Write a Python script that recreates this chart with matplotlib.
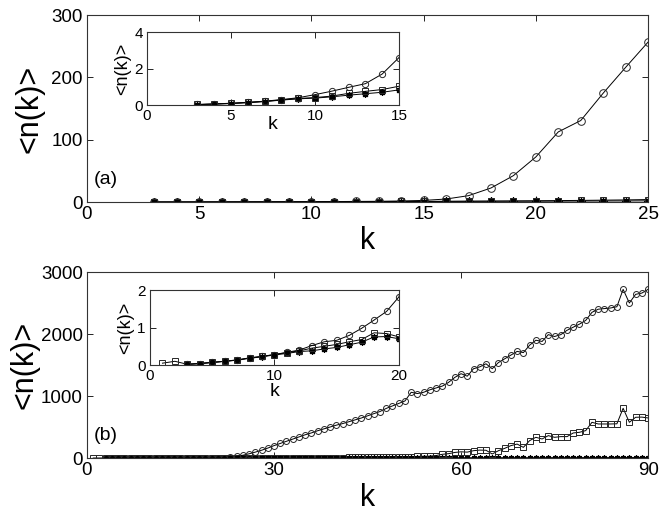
import matplotlib
matplotlib.use('Agg')
import matplotlib.pyplot as plt

plt.rcParams['font.family'] = ['Liberation Sans', 'DejaVu Sans']

# ---- panel (a) data ----
k_a = list(range(3, 26))
circ_a = [0.03, 0.06, 0.10, 0.15, 0.21, 0.30, 0.40, 0.57, 0.76, 0.97, 1.17, 1.70,
          2.60, 4.8, 10.2, 22.5, 42.3, 72.3, 112.5, 130.7, 174.6, 216.0, 256.6]
sq_a = [0.03, 0.06, 0.09, 0.14, 0.20, 0.28, 0.36, 0.41, 0.49, 0.64, 0.75, 0.85,
        1.03, 1.2, 1.4, 1.6, 1.8, 2.0, 2.3, 2.6, 3.0, 3.4, 4.0]
star_a = [0.02, 0.05, 0.08, 0.13, 0.19, 0.27, 0.34, 0.38, 0.45, 0.54, 0.62, 0.70,
          0.83, 0.95, 1.05, 1.15, 1.25, 1.35, 1.45, 1.55, 1.65, 1.75, 1.9]

# ---- panel (b) data ----
k_b_sq = list(range(1, 91))
k_b = list(range(3, 91))
circ_b = [0.02, 0.04, 0.07, 0.10, 0.14, 0.19, 0.23, 0.28, 0.34, 0.40, 0.52, 0.62,
          0.66, 0.79, 0.98, 1.20, 1.43, 1.82,
          4, 8, 15, 27, 45, 68, 95, 125, 160, 200,
          235, 270, 305, 340, 375, 405, 440, 470, 500, 530,
          555, 585, 615, 645, 680, 715, 750, 800, 840, 880,
          920, 1060, 1040, 1060, 1100, 1130, 1160, 1220, 1300, 1360,
          1320, 1440, 1470, 1520, 1440, 1540, 1600, 1660, 1720, 1700,
          1820, 1900, 1880, 1990, 1960, 1990, 2060, 2110, 2160, 2220,
          2350, 2400, 2410, 2420, 2440, 2720, 2500, 2640, 2660, 2720]
sq_b = [0.05, 0.10, 0.02, 0.04, 0.07, 0.10, 0.13, 0.19, 0.23, 0.28,
        0.33, 0.38, 0.45, 0.50, 0.55, 0.62, 0.68, 0.86, 0.84, 0.75,
        0.9, 1.0, 1.1, 1.3, 1.4, 1.6, 1.8, 2.0, 2.2, 2.5,
        2.8, 3.1, 3.5, 3.9, 4.3, 4.8, 5.3, 5.9, 6.5, 7.2,
        8, 9, 10, 11, 12, 13, 14, 15, 17, 19,
        20, 22, 25, 28, 30, 40, 60, 70, 90, 100,
        95, 118, 128, 125, 65, 118, 156, 200, 225, 172,
        280, 334, 307, 361, 334, 345, 345, 404, 415, 442,
        576, 549, 549, 549, 552, 802, 576, 657, 660, 646]
star_b = [0.02, 0.04, 0.07, 0.10, 0.13, 0.18, 0.22, 0.27, 0.31, 0.36, 0.38, 0.43,
          0.47, 0.54, 0.61, 0.75, 0.76, 0.70,
          0.8, 0.9, 0.9, 1.0, 1.1, 1.1, 1.2, 1.3, 1.4, 1.4,
          1.5, 1.6, 1.8, 1.8, 1.9, 2.1, 2.1, 2.2, 2.4, 2.4,
          2.5, 2.7, 2.7, 2.8, 3.0, 3.0, 3.1, 3.3, 3.3, 3.4,
          3.6, 3.6, 3.7, 3.9, 3.9, 4.0, 4.2, 4.2, 4.3, 4.5,
          4.5, 4.6, 4.8, 4.8, 4.9, 5.1, 5.1, 5.2, 5.4, 5.4,
          5.5, 5.7, 5.7, 5.8, 6.0, 6.0, 6.1, 6.3, 6.3, 6.4,
          6.6, 6.6, 6.7, 6.9, 6.9, 7.0, 7.2, 7.2, 7.3, 7.4]

ast = (8, 2, 0)
lw = 0.7
mec = '0.15'


def draw(ax, ks, c, ksq, s, st, ms):
    ax.plot(ks, st, '-', color='k', lw=lw, marker=ast, ms=ms * 1.05, mec='k', mew=0.9)
    ax.plot(ksq, s, '-', color='k', lw=lw, marker='s', ms=ms * 0.85, mfc='none', mec=mec, mew=0.7)
    ax.plot(ks, c, '-', color='k', lw=lw, marker='o', ms=ms, mfc='none', mec=mec, mew=0.7)


def style(ax, fs):
    ax.tick_params(direction='in', top=True, right=True, length=4, width=0.6,
                   labelsize=fs, pad=3)
    for sp in ax.spines.values():
        sp.set_linewidth(0.8)
        sp.set_color('0.2')


fig = plt.figure(figsize=(6.64, 5.2), dpi=100)

# main (a)
ax1 = fig.add_axes([0.131, 0.6115, 0.845, 0.3596])
draw(ax1, k_a, circ_a, k_a, sq_a, star_a, 5.5)
ax1.set_xlim(0, 25)
ax1.set_ylim(0, 300)
ax1.set_xticks([0, 5, 10, 15, 20, 25])
ax1.set_yticks([0, 100, 200, 300])
style(ax1, 13.5)
ax1.set_xlabel('k', fontsize=22, labelpad=2)
ax1.set_ylabel('<n(k)>', fontsize=22, labelpad=5)
ax1.text(0.012, 0.12, '(a)', transform=ax1.transAxes, fontsize=14, va='center')

# inset (a)
ax1i = fig.add_axes([0.2214, 0.798, 0.3795, 0.1404])
draw(ax1i, k_a, circ_a, k_a, sq_a, star_a, 4.5)
ax1i.set_xlim(0, 15)
ax1i.set_ylim(0, 4)
ax1i.set_xticks([0, 5, 10, 15])
ax1i.set_yticks([0, 2, 4])
style(ax1i, 11)
ax1i.set_xlabel('k', fontsize=14, labelpad=-5)
ax1i.set_ylabel('<n(k)>', fontsize=13, labelpad=2)

# main (b)
ax2 = fig.add_axes([0.131, 0.1192, 0.845, 0.3577])
draw(ax2, k_b, circ_b, k_b_sq, sq_b, star_b, 4.3)
ax2.set_xlim(0, 90)
ax2.set_ylim(0, 3000)
ax2.set_xticks([0, 30, 60, 90])
ax2.set_yticks([0, 1000, 2000, 3000])
style(ax2, 13.5)
ax2.set_xlabel('k', fontsize=22, labelpad=3)
ax2.set_ylabel('<n(k)>', fontsize=22, labelpad=1)
ax2.text(0.012, 0.12, '(b)', transform=ax2.transAxes, fontsize=14, va='center')

# inset (b)
ax2i = fig.add_axes([0.2259, 0.298, 0.375, 0.1442])
draw(ax2i, k_b, circ_b, k_b_sq, sq_b, star_b, 4.5)
ax2i.set_xlim(0, 20)
ax2i.set_ylim(0, 2)
ax2i.set_xticks([0, 10, 20])
ax2i.set_yticks([0, 1, 2])
style(ax2i, 11)
ax2i.set_xlabel('k', fontsize=14, labelpad=0)
ax2i.set_ylabel('<n(k)>', fontsize=13, labelpad=2)

fig.savefig('out.png', dpi=100)
